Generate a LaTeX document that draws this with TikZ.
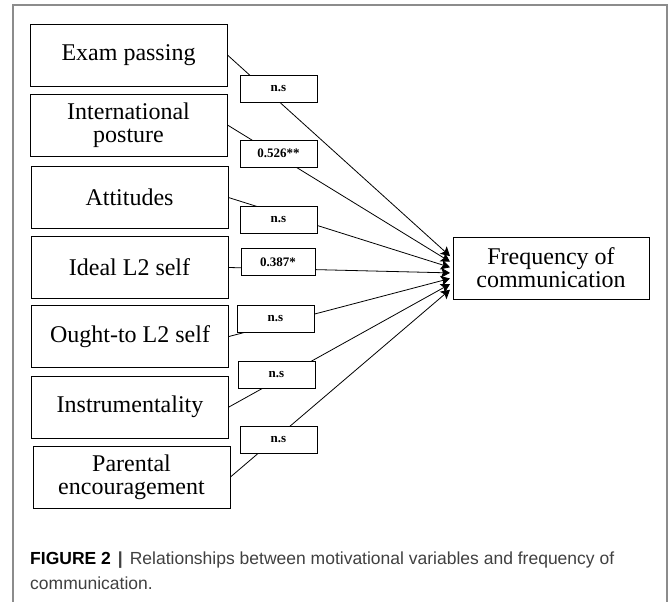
\documentclass[tikz,border=0pt]{standalone}
\usepackage{fontspec}
\setmainfont{Liberation Serif}
\newfontfamily\capfont{Liberation Sans}
\usetikzlibrary{arrows.meta}
\tikzset{
  varbox/.style={draw,line width=0.9pt,minimum width=197pt,minimum height=62pt,
    align=center,inner sep=0pt,font=\fontsize{24}{23}\selectfont},
  coefbox/.style={draw,fill=white,line width=0.8pt,minimum width=77pt,minimum height=27pt,
    inner sep=0pt,font=\fontsize{13}{14}\selectfont\bfseries},
  link/.style={-{Stealth[length=9pt,width=10pt,inset=2pt]},line width=0.8pt}
}

\begin{document}
\begin{tikzpicture}[x=1pt,y=-1pt]
  \useasboundingbox (0,0) rectangle (670,602);
  \draw[black!45,line width=1.4pt] (13,602) -- (13,5) -- (667,5) -- (667,602);

  \node[varbox] (exam) at (128.5,55) {Exam passing};
  \node[varbox] (intl) at (128.5,125) {International\\posture};
  \node[varbox] (att) at (129.5,197.5) {Attitudes};
  \node[varbox] (ideal) at (129.5,267.5) {Ideal L2 self};
  \node[varbox] (ought) at (130,336.5) {Ought-to L2 self};
  \node[varbox] (instr) at (130,407) {Instrumentality};
  \node[varbox] (parent) at (131.5,477) {Parental\\encouragement};
  \node[varbox,minimum width=196pt] (freq) at (551,268) {Frequency of\\communication};

  \foreach \i in {1,...,7}
    \coordinate (t\i) at (450,{250.5+5.6*\i});

  \draw[link] (exam.east) -- (t1);
  \draw[link] (intl.east) -- (t2);
  \draw[link] (att.east) -- (t3);
  \draw[link] (ideal.east) -- (t4);
  \draw[link] (ought.east) -- (t5);
  \draw[link] (instr.east) -- (t6);
  \draw[link] (parent.east) -- (t7);

  \node[coefbox] (c1) at (278.5,88.5) {n.s};
  \node[coefbox] (c2) at (278.5,153.5) {0.526**};
  \node[coefbox] (c3) at (278.5,219.5) {n.s};
  \node[coefbox,minimum width=74pt] (c4) at (278,262) {0.387*};
  \node[coefbox] (c5) at (275.5,319) {n.s};
  \node[coefbox] (c6) at (276.5,374.5) {n.s};
  \node[coefbox] (c7) at (278.5,439.5) {n.s};

  \node[anchor=base west,inner sep=0pt,font=\capfont\fontsize{17.5}{20}\selectfont] (cap1) at (30,564)
    {\textbf{FIGURE 2}\hspace{7pt}{\color{black!75}\textbf{|}\hspace{7pt}\color{black!75}Relationships between motivational variables and frequency of}};
  \node[anchor=base west,inner sep=0pt,font=\capfont\fontsize{17.5}{20}\selectfont,text=black!75] (cap2) at (30,589)
    {communication.};
\end{tikzpicture}
\end{document}
